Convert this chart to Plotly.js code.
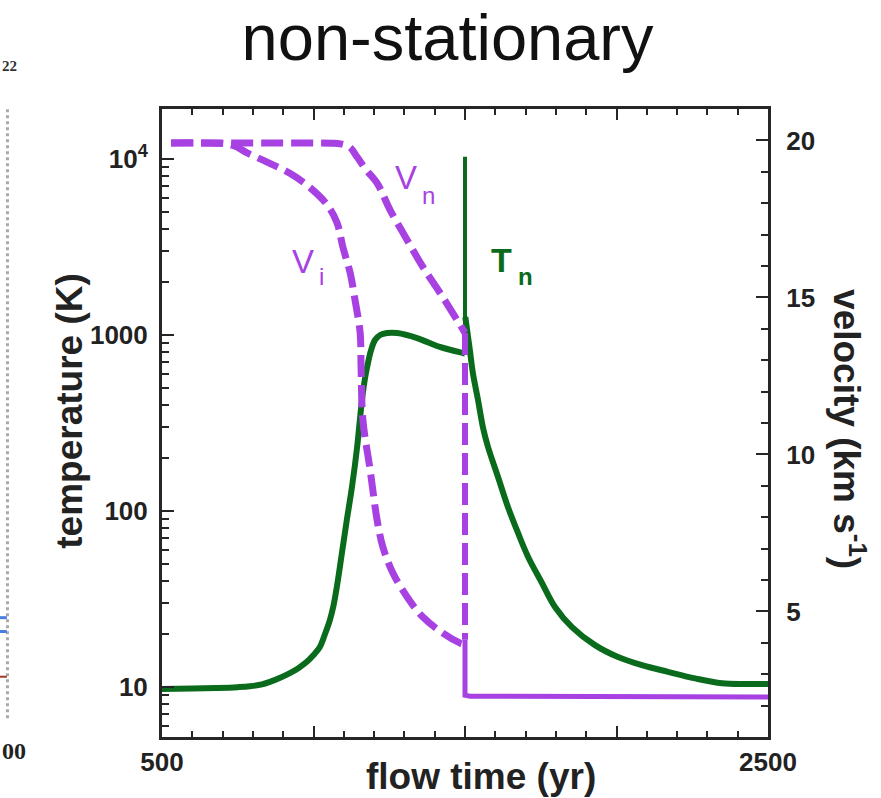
<!DOCTYPE html>
<html>
<head>
<meta charset="utf-8">
<script src="https://cdn.plot.ly/plotly-3.0.1.min.js"></script>
<style>html,body{margin:0;padding:0;background:#fff;}#chart{width:881px;height:798px;}</style>
</head>
<body>
<div id="chart"></div>
<script>
// ---- data ----
// neutral temperature Tn (K): pre-shock part
const tnPreTime = [500, 600, 681, 750, 790, 830, 856, 890, 922, 950, 978, 1000, 1021, 1038, 1054, 1066, 1077, 1094, 1110, 1127, 1144, 1153, 1160, 1168, 1177, 1190, 1203, 1220, 1243, 1276, 1342, 1417, 1493, 1500];
const tnPreTemp = [9.75, 9.8, 9.87, 9.98, 10.1, 10.35, 10.7, 11.3, 12.0, 12.8, 13.9, 15.2, 16.9, 20, 24, 29, 37, 58, 89, 137, 231, 329, 427, 540, 658, 820, 937, 1000, 1026, 1026, 961, 855, 790, 785];
// Tn spike at the J-front (thin)
const spikeTime = [1500, 1500];
const spikeTemp = [785, 10300];
// Tn post-shock cooling
const tnPostTime = [1501, 1516, 1526, 1543, 1559, 1576, 1609, 1642, 1675, 1708, 1754, 1797, 1853, 1929, 2005, 2084, 2170, 2259, 2348, 2424, 2500];
const tnPostTemp = [1265, 822, 608, 427, 300, 231, 156, 105, 75, 55, 39, 28.5, 21.9, 17.3, 14.8, 13.3, 12.2, 11.2, 10.5, 10.4, 10.4];
// neutral velocity Vn (km/s), dashed
const vnTime = [530, 700, 850, 980, 1060, 1088, 1120, 1144, 1175, 1210, 1253, 1309, 1361, 1418, 1474, 1500];
const vnVel  = [19.92, 19.92, 19.92, 19.92, 19.91, 19.89, 19.78, 19.47, 19.05, 18.64, 17.78, 16.83, 15.97, 15.14, 14.28, 13.87];
const vnDropTime = [1500, 1500];
const vnDropVel  = [13.87, 4.1];
// ion velocity Vi (km/s), dashed
const viTime = [530, 620, 700, 740, 781, 847, 922, 988, 1045, 1078, 1097, 1121, 1137, 1154, 1157, 1163, 1187, 1210, 1229, 1262, 1309, 1361, 1427, 1484, 1490];
const viVel  = [19.92, 19.92, 19.9, 19.82, 19.6, 19.31, 18.95, 18.5, 17.95, 17.37, 16.6, 15.78, 14.92, 13.87, 12.78, 11.1, 9.5, 7.91, 7.05, 6.22, 5.46, 4.82, 4.31, 3.99, 3.97];
// post-shock common velocity (solid)
const postTime = [1500, 1500, 1517, 2500];
const postVel  = [4.1, 2.33, 2.30, 2.27];
// axis ticks
const tempTickVals = [10, 100, 1000, 10000];
const tempTickText = ['10', '100', '1000', '10<sup>4</sup>'];
const tempMinorVals = [6,7,8,9,20,30,40,50,60,70,80,90,200,300,400,500,600,700,800,900,2000,3000,4000,5000,6000,7000,8000,9000];
const velTickVals = [5, 10, 15, 20];
const timeTickVals = [500, 1000, 1500, 2000, 2500];
const timeTickText = ['500', '', '', '', '2500'];

const PURPLE = '#a741e2';
const GREEN = '#0b6b1c';
const AX = '#262626';
const FONT = 'Liberation Sans, Arial, Helvetica, sans-serif';
const DASH = '22px,8px';

const traces = [
  {x: vnTime, y: vnVel, yaxis: 'y2', mode: 'lines', line: {color: PURPLE, width: 7, dash: DASH, shape: 'spline', smoothing: 1}, hoverinfo: 'skip'},
  {x: vnDropTime, y: vnDropVel, yaxis: 'y2', mode: 'lines', line: {color: PURPLE, width: 6, dash: DASH}, hoverinfo: 'skip'},
  {x: viTime, y: viVel, yaxis: 'y2', mode: 'lines', line: {color: PURPLE, width: 7, dash: DASH, shape: 'spline', smoothing: 1}, hoverinfo: 'skip'},
  {x: postTime, y: postVel, yaxis: 'y2', mode: 'lines', line: {color: PURPLE, width: 5}, hoverinfo: 'skip'},
  {x: spikeTime, y: spikeTemp, yaxis: 'y', mode: 'lines', line: {color: GREEN, width: 4}, hoverinfo: 'skip'},
  {x: tnPreTime, y: tnPreTemp, yaxis: 'y', mode: 'lines', line: {color: GREEN, width: 6, shape: 'spline', smoothing: 1}, hoverinfo: 'skip'},
  {x: tnPostTime, y: tnPostTemp, yaxis: 'y', mode: 'lines', line: {color: GREEN, width: 6, shape: 'spline', smoothing: 1}, hoverinfo: 'skip'},
  // carrier for the minor log ticks axis (invisible)
  {x: tnPreTime, y: tnPreTemp, yaxis: 'y3', mode: 'lines', opacity: 0, line: {width: 0}, hoverinfo: 'skip'}
];

const tickFont = {family: FONT, size: 26, color: '#222', weight: 'bold'};
const titleFont = {family: FONT, size: 37, color: '#222', weight: 'bold'};

const layout = {
  width: 881, height: 798,
  margin: {l: 162, r: 113, t: 109, b: 61},
  paper_bgcolor: '#fff', plot_bgcolor: '#fff',
  showlegend: false,
  title: {text: 'non-stationary', font: {family: FONT, size: 65, color: '#111'}, x: 0.508, xref: 'container', y: 0.953, yref: 'container', yanchor: 'middle'},
  xaxis: {
    range: [500, 2500], tickmode: 'array', tickvals: timeTickVals, ticktext: timeTickText,
    ticks: 'inside', ticklen: 11, tickwidth: 2, tickcolor: AX,
    minor: {dtick: 100, tick0: 500, ticks: 'inside', ticklen: 6, tickwidth: 2, tickcolor: AX},
    showline: true, linewidth: 3, linecolor: AX, mirror: 'ticks',
    showgrid: false, zeroline: false, tickfont: tickFont, ticklabelstandoff: 0
  },
  yaxis: {
    type: 'log', range: [0.716, 4.284], tickmode: 'array', tickvals: tempTickVals, ticktext: tempTickText,
    ticks: 'inside', ticklen: 12, tickwidth: 2, tickcolor: AX,
    showline: true, linewidth: 3, linecolor: AX, mirror: false,
    showgrid: false, zeroline: false, tickfont: tickFont, ticklabelstandoff: 6
  },
  yaxis3: {
    type: 'log', overlaying: 'y', side: 'left', range: [0.716, 4.284], tickmode: 'array', tickvals: tempMinorVals,
    ticks: 'inside', ticklen: 7, tickwidth: 2, tickcolor: AX, showticklabels: false,
    showline: false, showgrid: false, zeroline: false
  },
  yaxis2: {
    overlaying: 'y', side: 'right', range: [1, 21], tickmode: 'array', tickvals: velTickVals,
    ticks: 'inside', ticklen: 12, tickwidth: 2, tickcolor: AX,
    minor: {dtick: 1, tick0: 0, ticks: 'inside', ticklen: 7, tickwidth: 2, tickcolor: AX},
    showline: true, linewidth: 3, linecolor: AX,
    showgrid: false, zeroline: false, tickfont: tickFont, ticklabelstandoff: 10
  },
  annotations: [
    {text: 'flow time (yr)', xref: 'paper', yref: 'paper', x: 0.526, y: -0.063, showarrow: false, font: titleFont, xanchor: 'center', yanchor: 'middle'},
    {text: 'temperature (K)', textangle: -90, xref: 'paper', yref: 'paper', x: -0.153, y: 0.52, showarrow: false, font: titleFont, xanchor: 'center', yanchor: 'middle'},
    {text: 'velocity (km s<sup>-1</sup>)', textangle: 90, xref: 'paper', yref: 'paper', x: 1.134, y: 0.49, showarrow: false, font: titleFont, xanchor: 'center', yanchor: 'middle'},
    {text: 'V', xref: 'paper', yref: 'paper', x: 0.423, y: 0.922, xanchor: 'right', showarrow: false, borderpad: 0, font: {family: FONT, size: 33, color: PURPLE}},
    {text: 'n', xref: 'paper', yref: 'paper', x: 0.427, y: 0.885, xanchor: 'left', showarrow: false, borderpad: 0, font: {family: FONT, size: 24, color: PURPLE}},
    {text: 'V', xref: 'paper', yref: 'paper', x: 0.252, y: 0.788, xanchor: 'right', showarrow: false, borderpad: 0, font: {family: FONT, size: 33, color: PURPLE}},
    {text: 'i', xref: 'paper', yref: 'paper', x: 0.257, y: 0.757, xanchor: 'left', showarrow: false, borderpad: 0, font: {family: FONT, size: 24, color: PURPLE}},
    {text: 'T', xref: 'paper', yref: 'paper', x: 0.580, y: 0.792, xanchor: 'right', showarrow: false, borderpad: 0, font: {family: FONT, size: 34, color: GREEN, weight: 'bold'}},
    {text: 'n', xref: 'paper', yref: 'paper', x: 0.586, y: 0.756, xanchor: 'left', showarrow: false, borderpad: 0, font: {family: FONT, size: 24, color: GREEN, weight: 'bold'}},
    {text: '00', xref: 'paper', yref: 'paper', x: -0.268, y: -0.022, xanchor: 'left', yanchor: 'middle', showarrow: false, font: {family: 'Liberation Serif, serif', size: 24, color: '#222', weight: 'bold'}},
    {text: '22', xref: 'paper', yref: 'paper', x: -0.268, y: 1.069, xanchor: 'left', yanchor: 'middle', showarrow: false, font: {family: 'Liberation Serif, serif', size: 15, color: '#333', weight: 'bold'}}
  ],
  shapes: [
    {type: 'line', xref: 'paper', yref: 'paper', x0: -0.255, x1: -0.255, y0: 0.03, y1: 1.0, line: {color: '#aaa', width: 3, dash: 'dot'}},
    {type: 'line', xref: 'paper', yref: 'paper', x0: -0.268, x1: -0.256, y0: 0.19, y1: 0.19, line: {color: '#4a7fe0', width: 3}},
    {type: 'line', xref: 'paper', yref: 'paper', x0: -0.268, x1: -0.256, y0: 0.168, y1: 0.168, line: {color: '#4a7fe0', width: 3}},
    {type: 'line', xref: 'paper', yref: 'paper', x0: -0.268, x1: -0.256, y0: 0.096, y1: 0.096, line: {color: '#a0392a', width: 2}}
  ]
};

Plotly.newPlot('chart', traces, layout, {displayModeBar: false, staticPlot: true});
</script>
</body>
</html>
